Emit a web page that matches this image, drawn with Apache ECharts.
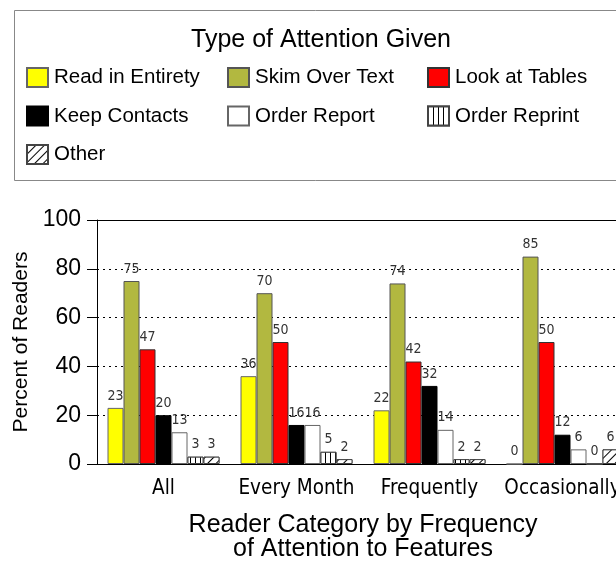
<!DOCTYPE html>
<html>
<head>
<meta charset="utf-8">
<script src="https://cdn.jsdelivr.net/npm/echarts@6/dist/echarts.min.js"></script>
<style>
html,body{margin:0;padding:0;background:#fff;}
#chart{width:616px;height:561px;}
</style>
</head>
<body>
<div id="chart"></div>
<script>
var categories = ['All', 'Every Month', 'Frequently', 'Occasionally'];
var seriesNames = ['Read in Entirety', 'Skim Over Text', 'Look at Tables', 'Keep Contacts', 'Order Report', 'Order Reprint', 'Other'];
var readInEntirety = [23, 36, 22, 0];
var skimOverText = [75, 70, 74, 85];
var lookAtTables = [47, 50, 42, 50];
var keepContacts = [20, 16, 32, 12];
var orderReport = [13, 16, 14, 6];
var orderReprint = [3, 5, 2, 0];
var other = [3, 2, 2, 6];
var yTicks = [0, 20, 40, 60, 80, 100];

var values = [readInEntirety, skimOverText, lookAtTables, keepContacts, orderReport, orderReprint, other];
var colors = ['#ffff00', '#b2b840', '#ff0000', '#000000', '#ffffff', '#ffffff', '#ffffff'];
var borders = ['#666', '#555', '#333', '#000', '#666', '#444', '#444'];
var decals = [null, null, null, null, null,
  {symbol: 'rect', symbolSize: 1, dashArrayX: [1, 4], dashArrayY: [10, 0], color: '#000', backgroundColor: '#fff'},
  {symbol: 'rect', symbolSize: 1, dashArrayX: [1, 5], dashArrayY: [10, 0], rotation: Math.PI / 4, color: '#000', backgroundColor: '#fff'}
];

var condensed = '"DejaVu Sans Condensed", "Liberation Sans Narrow", "Arial Narrow", sans-serif';
var sans = '"Liberation Sans", Arial, sans-serif';

var series = seriesNames.map(function (n, i) {
  var st = {color: colors[i], borderColor: borders[i], borderWidth: 1};
  if (decals[i]) st.decal = decals[i];
  return {
    name: n, type: 'bar', data: values[i], barWidth: 16, barGap: '0%',
    itemStyle: st,
    label: {show: true, position: 'top', distance: 5, fontFamily: condensed, fontSize: 14, color: '#333'}
  };
});

function legendCol(names, left) {
  return {
    data: names, orient: 'vertical', left: left, top: 67, icon: 'rect', padding: 0,
    itemWidth: 21, itemHeight: 19, itemGap: 17.5,
    textStyle: {fontFamily: sans, fontSize: 20.5, color: '#000', lineHeight: 19, padding: [0, 0, 0, 1]},
    selectedMode: false
  };
}

var chart = echarts.init(document.getElementById('chart'), null, {renderer: 'canvas'});
chart.setOption({
  animation: false,
  backgroundColor: '#fff',
  aria: {enabled: false},
  graphic: [
    {type: 'rect', shape: {x: 14.5, y: 10.5, width: 640, height: 170}, style: {fill: 'none', stroke: '#888', lineWidth: 1}},
    {type: 'text', x: 321, y: 40, style: {text: 'Type of Attention Given', font: '25px "Liberation Sans", Arial, sans-serif', fill: '#000', textAlign: 'center', textVerticalAlign: 'middle'}}
  ],
  legend: [
    legendCol(['Read in Entirety', 'Keep Contacts', 'Other'], 26),
    legendCol(['Skim Over Text', 'Order Report'], 227),
    legendCol(['Look at Tables', 'Order Reprint'], 427)
  ],
  grid: {left: 97, top: 220, width: 532, height: 244, containLabel: false, outerBoundsMode: 'none'},
  xAxis: [{
    type: 'category', data: categories,
    axisLine: {show: true, lineStyle: {color: '#000', width: 1}},
    axisTick: {show: false},
    axisLabel: {fontFamily: condensed, fontSize: 20.5, color: '#000', margin: 14, interval: 0, hideOverlap: false},
    name: 'Reader Category by Frequency\nof Attention to Features',
    nameLocation: 'middle', nameGap: 49,
    nameTextStyle: {fontFamily: sans, fontSize: 25, color: '#000', lineHeight: 24}
  }, {
    type: 'category', data: categories, position: 'top',
    axisLine: {show: true, lineStyle: {color: '#000', width: 1}},
    axisTick: {show: false}, axisLabel: {show: false}
  }],
  yAxis: {
    type: 'value', min: 0, max: 100, interval: 20,
    axisLine: {show: true, lineStyle: {color: '#000', width: 1}},
    axisTick: {show: true, length: 10, lineStyle: {color: '#000'}},
    axisLabel: {fontFamily: sans, fontSize: 23, color: '#000', margin: 16},
    splitLine: {show: true, lineStyle: {color: '#000', type: [2, 4], width: 1}},
    name: 'Percent of Readers', nameLocation: 'middle', nameGap: 56,
    nameTextStyle: {fontFamily: sans, fontSize: 21, color: '#000'}
  },
  series: series
});
</script>
</body>
</html>
